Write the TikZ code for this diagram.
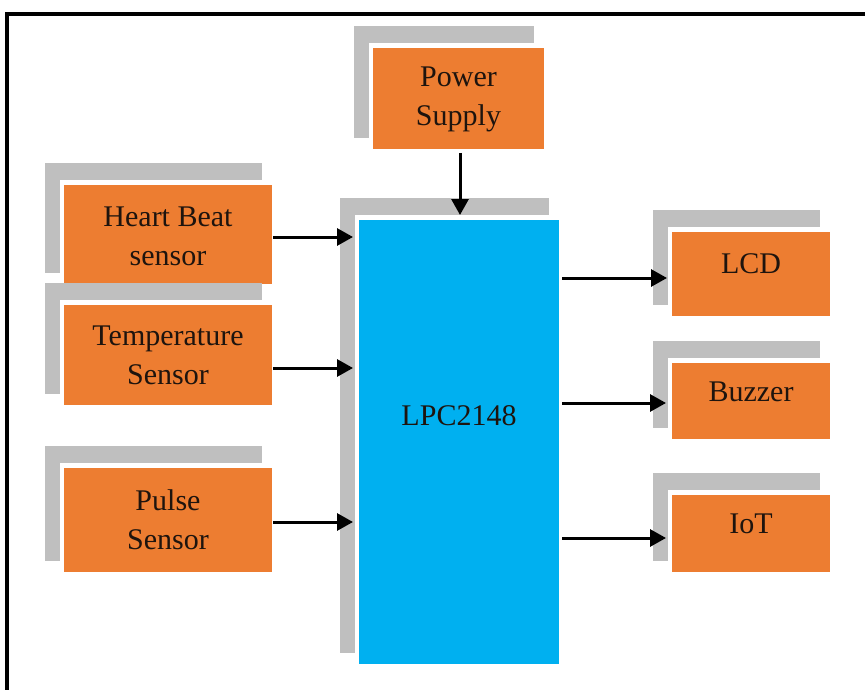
\documentclass[tikz,border=0pt]{standalone}
\usepackage{fontspec}
\setmainfont{Liberation Serif}
\usetikzlibrary{arrows.meta}
\definecolor{boxorange}{HTML}{ED7D31}
\definecolor{boxblue}{HTML}{00B0F0}
\definecolor{shadowgray}{HTML}{BFBFBF}
\definecolor{txt}{HTML}{1E140E}
\newcommand\rectnode[6]{%
  \node[#6, minimum width={((#4)-(#2))*1pt}, minimum height={((#5)-(#3))*1pt}] (#1) at ({((#2)+(#4))/2},{((#3)+(#5))/2}) {};}
\newcommand\shadowedbox[6]{% name, x1,y1,x2,y2 of the front box
  \rectnode{#1sh}{#2-19}{#3-22}{#4-10}{#5-11}{shadowrect}
  \rectnode{#1wh}{#2-4}{#3-5}{#4+4}{#5+4}{whiterect}
  \rectnode{#1}{#2}{#3}{#4}{#5}{#6}}
\begin{document}
\begin{tikzpicture}[x=1pt,y=-1pt,
  base/.style={inner sep=0pt, outer sep=0pt, draw=none},
  shadowrect/.style={base, fill=shadowgray},
  whiterect/.style={base, fill=white},
  orangebox/.style={base, fill=boxorange},
  bluebox/.style={base, fill=boxblue},
  lbl/.style={align=center, text=txt, font=\fontsize{30}{39}\selectfont, inner sep=0pt},
  arr/.style={line width=3pt, -{Triangle[length=16pt,width=17pt]}}]
\useasboundingbox (0,0) rectangle (865,690);
\fill[white] (0,0) rectangle (865,690);
\draw[line width=4pt] (6.5,695) -- (6.5,14.5) -- (870,14.5);
% boxes
\shadowedbox{ps}{373}{48}{544}{149}{orangebox}
\shadowedbox{hb}{64}{185}{272}{284}{orangebox}
\shadowedbox{ts}{64}{305}{272}{405}{orangebox}
\shadowedbox{pu}{64}{468}{272}{572}{orangebox}
\shadowedbox{lcd}{672}{232}{830}{316}{orangebox}
\shadowedbox{bz}{672}{363}{830}{439}{orangebox}
\shadowedbox{iot}{672}{495}{830}{572}{orangebox}
\shadowedbox{lpc}{359}{220}{559}{664}{bluebox}
% labels
\node[lbl] at ([yshift=-1pt]ps) {Power\\Supply};
\node[lbl] at ([yshift=-2pt]hb) {Heart Beat\\sensor};
\node[lbl] at (ts) {Temperature\\Sensor};
\node[lbl] at (pu) {Pulse\\Sensor};
\node[lbl] at ([yshift=10pt]lcd) {LCD};
\node[lbl] at ([yshift=9pt]bz) {Buzzer};
\node[lbl] at ([yshift=10pt]iot) {IoT};
\node[lbl] at ([yshift=26pt]lpc) {LPC2148};
% connectors
\draw[arr, shorten <=4pt, shorten >=5pt] ([xshift=1.5pt]ps.south) -- ([xshift=1.5pt]ps.south |- lpc.north);
\draw[arr, shorten <=1pt, shorten >=6pt] ([yshift=-2.5pt]hb.east) -- ([yshift=-2.5pt]hb.east -| lpc.west);
\draw[arr, shorten <=1pt, shorten >=6pt] ([yshift=-13pt]ts.east) -- ([yshift=-13pt]ts.east -| lpc.west);
\draw[arr, shorten <=1pt, shorten >=6pt] ([yshift=-2pt]pu.east) -- ([yshift=-2pt]pu.east -| lpc.west);
\draw[arr, shorten <=3pt, shorten >=5pt] ([yshift=-4pt]lcd.west -| lpc.east) -- ([yshift=-4pt]lcd.west);
\draw[arr, shorten <=3pt, shorten >=6pt] ([yshift=-2pt]bz.west -| lpc.east) -- ([yshift=-2pt]bz.west);
\draw[arr, shorten <=3pt, shorten >=6pt] ([yshift=-4.5pt]iot.west -| lpc.east) -- ([yshift=-4.5pt]iot.west);
\end{tikzpicture}
\end{document}
